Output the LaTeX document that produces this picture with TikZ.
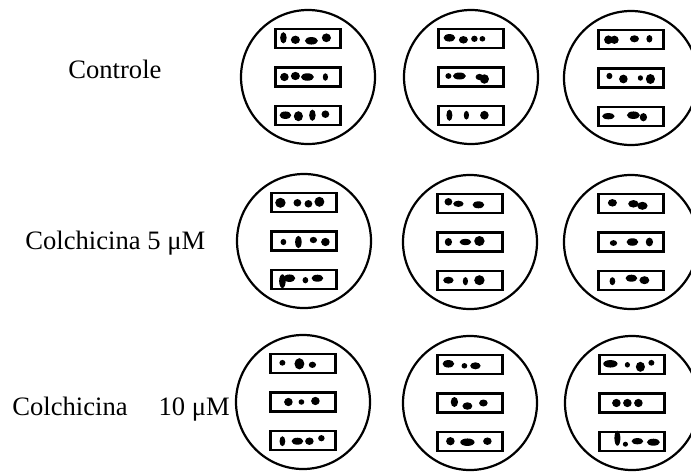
\documentclass[tikz,border=0pt]{standalone}
\usepackage{fontspec}
\setmainfont{Liberation Serif}
\usetikzlibrary{positioning}

% spots inside one strip: dx/dy/rx/ry, measured from the strip's west end
\newcommand{\spots}[2]{%
  \foreach \dx/\dy/\rx/\ry in {#2}
    \fill ([shift={(\dx,\dy)}]#1.west) ellipse [x radius=1.3*\rx, y radius=1.25*\ry];}

\begin{document}
\begin{tikzpicture}[
x=0.5pt, y=-0.5pt,
node distance=8.5pt,
dish/.style={draw, circle, line width=1.1pt, minimum size=67pt, inner sep=0pt},
strip/.style={draw, line width=1.1pt, minimum width=32.5pt, minimum height=9.5pt, inner sep=0pt},
lbl/.style={font=\fontsize{13.3}{16}\selectfont, inner sep=0pt, anchor=base west}
]
\useasboundingbox (0,0) rectangle (691,472);

% row labels
\node[lbl] (t1) at (68,78) {Controle};
\node[lbl] (t2) at (25,249) {Colchicina 5 μM};
\node[lbl] (t3) at (12,415) {Colchicina\hspace{15.5pt}10 μM};

% dishes
\node[dish] (d11) at (308,77) {};
\node[dish] (d12) at (471,77) {};
\node[dish] (d13) at (631,78) {};
\node[dish] (d21) at (304,241) {};
\node[dish] (d22) at (470,242) {};
\node[dish] (d23) at (631,242) {};
\node[dish] (d31) at (303,402) {};
\node[dish] (d32) at (470,403) {};
\node[dish] (d33) at (632,403) {};

% three strips per dish
\foreach \d in {11,12,13,21,22,23,31,32,33} {
  \node[strip] (s\d b) at (d\d.center) {};
  \node[strip, above=of s\d b] (s\d a) {};
  \node[strip, below=of s\d b] (s\d c) {};
}

% Controle
\spots{s11a}{9/-1/2.5/4.5, 21/1/3.5/3.3, 37/2/5/3, 52/-1/3.5/3.5}
\spots{s11b}{10/0/3.3/3.3, 21/-1/3.5/3.3, 33/0/5/3, 51/0/2/3}
\spots{s11c}{11/0/4.5/3, 24/1/3.5/4, 38/0/2.5/4.5, 51/-1/3/3}
\spots{s12a}{12/-1/4.5/3, 26/1/3.5/3, 37/0/2.5/2.5, 45/0/2.2/2.2}
\spots{s12b}{11/-1/2.3/2.3, 22/-1/5/2.8, 42/0/3/2.5, 47/2/3.5/3.8}
\spots{s12c}{12/0/2.3/4.5, 29/0/2/3.5, 47/0/3.3/3.5}
\spots{s13a}{11/0/3.3/3.5, 17/0/3.3/3.3, 37/-1/3.5/2.8, 52/-1/2.3/3}
\spots{s13b}{12/-2/2.3/2.5, 26/1/3.3/3.5, 43/0/2/2.2, 53/1/3.5/4}
\spots{s13c}{11/0/4.8/2.5, 36/-1/5/3, 46/1/2.8/3.3}

% Colchicina 5
\spots{s21a}{10/0/4/4, 27/0/3/3, 38/1/3/3, 49/-1/3.8/4}
\spots{s21b}{13/1/2.2/2.5, 28/1/2.5/5, 43/-1/2.8/2.5, 55/1/3.3/3.3}
\spots{s21c}{12/2/2.5/5.5, 19/-1/4.5/3, 35/1/2.2/2.5, 47/-1/4.5/2.8}
\spots{s22a}{12/-2/3/3, 22/0/4/2.5, 42/1/4.5/2.8}
\spots{s22b}{12/0/2.8/3.2, 29/0/4.5/2.5, 43/-1/4/4}
\spots{s22c}{12/0/4/2.8, 29/1/2/3.3, 43/0/4/4}
\spots{s23a}{15/-1/3.5/3, 36/0/4/3, 45/2/4/3.2}
\spots{s23b}{16/1/2.8/2.3, 35/0/4.5/3, 52/0/2.8/3.5}
\spots{s23c}{15/1/2.2/3.2, 34/-2/4.5/2.8, 47/0/3.8/3.2}

% Colchicina 10
\spots{s31a}{13/-1/2.3/2.3, 30/0/3.8/4.5, 43/1/2.8/2.5}
\spots{s31b}{19/0/3.3/3.3, 32/0/2.2/2.2, 46/-1/3.3/3.3}
\spots{s31c}{13/1/2.2/4, 28/1/4.5/2.8, 40/1/3.3/3, 52/-2/2.5/2.5}
\spots{s32a}{12/-1/4.5/3, 28/1/2.2/2.2, 39/1/4/2.8}
\spots{s32b}{18/-1/2.8/4, 31/3/3.8/3, 47/0/3.3/2.8}
\spots{s32c}{14/0/3.3/3.3, 31/1/5.5/3, 51/0/3.3/3}
\spots{s33a}{12/-1/5.5/3, 29/0/2/2.2, 42/2/3.5/4, 53/-2/2.3/2.3}
\spots{s33b}{18/0/3.3/3.3, 29/0/3.3/3.3, 40/0/3.3/3.3}
\spots{s33c}{19/-3/2.3/6, 27/3/2/2, 39/0/4.5/2.5, 55/1/5/2.8}
\end{tikzpicture}
\end{document}
